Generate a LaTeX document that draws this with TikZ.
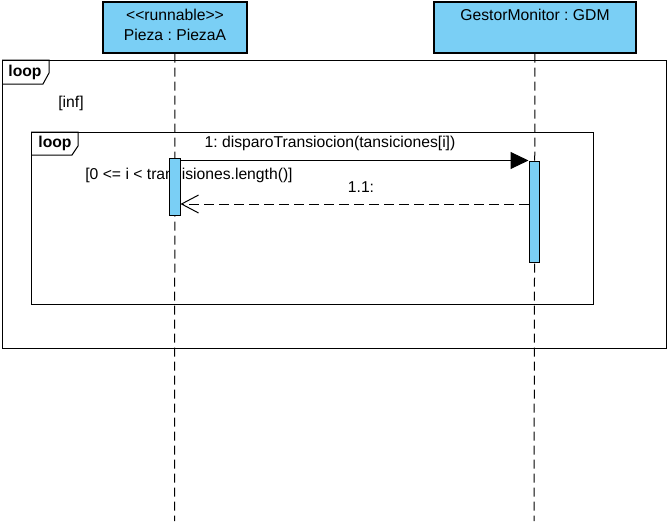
\documentclass[tikz,border=0pt]{standalone}
\usepackage{fontspec}
\setmainfont{Liberation Sans}
\usetikzlibrary{arrows.meta}
\definecolor{vpblue}{RGB}{122,207,245}
\frenchspacing

\begin{document}
\begin{tikzpicture}[x=1pt, y=-1pt, font=\fontsize{15.7}{20}\selectfont, line width=1pt]
        \useasboundingbox (0,0) rectangle (671,527);

        % Frames
        \node[draw, anchor=north west, inner sep=0, minimum width=664pt, minimum height=288pt] (outer) at (2,60) {};
        \draw (outer.north west) -- ++(47,0) -- ++(0,13) -- ++(-6,11) -- ++(-41,0);
        \node[font=\fontsize{15.7}{20}\selectfont\bfseries] (outerop) at (25,72) {loop};
        \node (outerguard) at (71,103) {[inf]};
        \node[draw, anchor=north west, inner sep=0, minimum width=562pt, minimum height=172pt] (inner) at (31,132) {};
        \draw (inner.north west) -- ++(47,0) -- ++(0,14) -- ++(-6,9) -- ++(-41,0);
        \node[font=\fontsize{15.7}{20}\selectfont\bfseries] (innerop) at (55,143) {loop};

        % Lifelines
        \node[draw, line width=1.2pt, fill=vpblue, align=center, inner sep=0, minimum width=144pt, minimum height=51pt] (pieza) at (175,27.5) {<\kern0pt<runnable>\kern0pt>\\Pieza : PiezaA\\[-15pt]\mbox{}};
        \node[draw, line width=1.2pt, fill=vpblue, align=center, inner sep=0, minimum width=202pt, minimum height=51pt] (gdm) at (535,27.5) {GestorMonitor : GDM\\ \mbox{}\\[-15pt]\mbox{}};
        \coordinate (piezaEnd) at (174.5,521);
        \coordinate (gdmEnd) at (534,521);
        \draw[dash pattern=on 9pt off 5pt] (pieza) -- (piezaEnd);
        \draw[dash pattern=on 9pt off 5pt] (gdm) -- (gdmEnd);

        \node (innerguard) at (189,175) {[0 <= i < transisiones.length()]};

        % Activations
        \node[draw, fill=vpblue, inner sep=0, minimum width=11pt, minimum height=57pt] (actP) at (174.5,186.5) {};
        \node[draw, fill=vpblue, inner sep=0, minimum width=10pt, minimum height=101pt] (actG) at (534,211.5) {};

        % Messages
        \coordinate (ret) at (534,204);
        \draw[-{Triangle[length=18pt,width=17pt]}] (actP.east |- actG.north) -- (actG.north west);
        \draw[dash pattern=on 10pt off 5pt, -{Straight Barb[length=17pt,width=18pt]}] (actG.west |- ret) -- (actP.east |- ret);
        \node (msg1) at (330,143) {1: disparoTransiocion(tansiciones[i])};
        \node (msg11) at (361,187) {1.1:};
    \end{tikzpicture}
\end{document}
